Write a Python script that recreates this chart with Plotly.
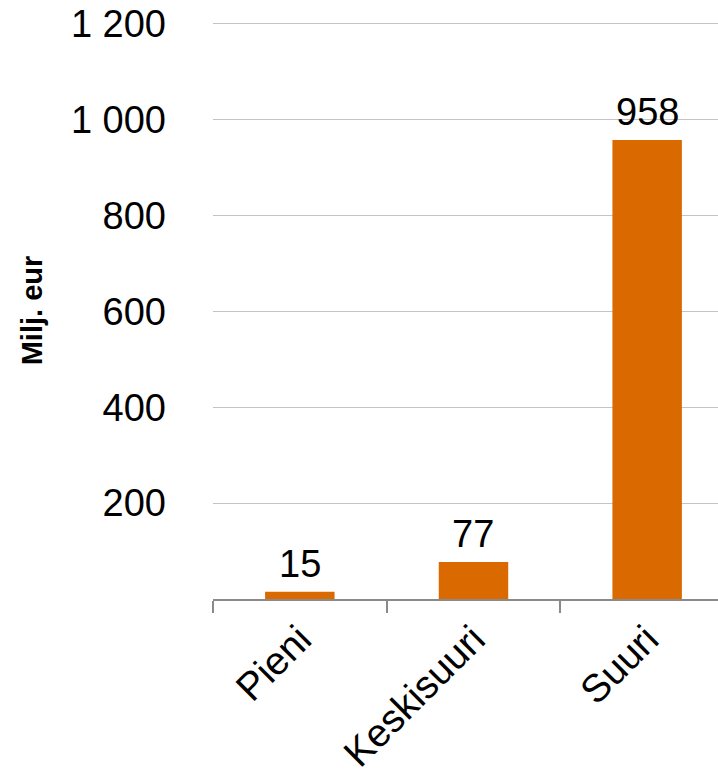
import plotly.graph_objects as go

categories = ["Pieni", "Keskisuuri", "Suuri"]
values = [15, 77, 958]
y_tickvals = [200, 400, 600, 800, 1000, 1200]
y_ticktext = ["200", "400", "600", "800", "1 000", "1 200"]

BAR_COLOR = "#DA6A00"
FONT = "Liberation Sans, Arial, sans-serif"

fig = go.Figure()
fig.add_trace(go.Bar(
    x=categories, y=values, width=0.4,
    marker=dict(color=BAR_COLOR, line=dict(width=0)),
    hoverinfo="skip",
))

for c, v in zip(categories, values):
    fig.add_annotation(x=c, y=v, text=str(v), showarrow=False,
                       yanchor="bottom", yshift=5,
                       font=dict(family=FONT, size=38, color="black"))

fig.update_layout(
    width=718, height=780,
    margin=dict(l=213, r=0, t=22, b=181, pad=0),
    paper_bgcolor="white", plot_bgcolor="white",
    showlegend=False,
    font=dict(family=FONT, color="black"),
    bargap=0.6,
)
fig.update_xaxes(
    type="category",
    range=[-0.5, 2.408],
    showline=True, linecolor="#8A8A8A", linewidth=1.5,
    ticks="outside", tickson="boundaries", ticklen=12, tickcolor="#8A8A8A", tickwidth=1.5,
    tickangle=-45, tickfont=dict(family=FONT, size=39, color="black"),
    showgrid=False, zeroline=False,
)
fig.update_yaxes(
    range=[0, 1204],
    tickvals=y_tickvals, ticktext=y_ticktext,
    tickfont=dict(family=FONT, size=38, color="black"),
    ticks="", ticklabelstandoff=46,
    showgrid=True, gridcolor="#C4C4C4", gridwidth=1,
    zeroline=False, showline=False,
    title=dict(text="<b>Milj. eur</b>", font=dict(family=FONT, size=29, color="black"), standoff=19),
)

fig.write_html("out.html")
